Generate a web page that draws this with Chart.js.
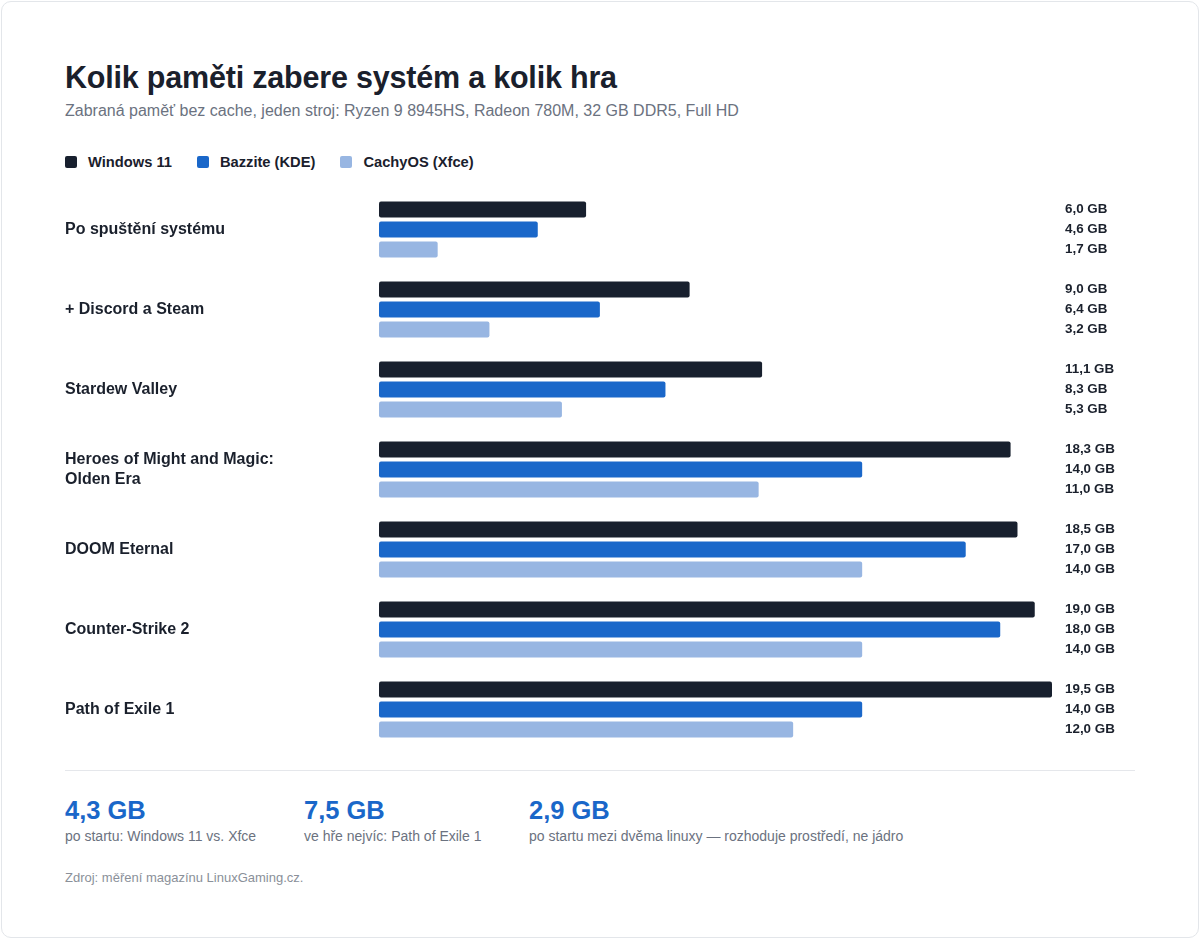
<!DOCTYPE html>
<html>
<head>
<meta charset="utf-8">
<script src="https://cdn.jsdelivr.net/npm/chart.js@4"></script>
<style>
  html,body{margin:0;padding:0;background:#ffffff;}
  body{width:1200px;height:939px;position:relative;font-family:"Liberation Sans",Arial,sans-serif;overflow:hidden;}
  .card{position:absolute;left:1px;top:1px;width:1196px;height:935px;border:1px solid #e3e6ea;border-radius:10px;background:#fff;}
  .title{position:absolute;left:65px;top:60px;font-size:30.5px;font-weight:700;color:#1a202c;letter-spacing:-0.2px;white-space:nowrap;}
  .subtitle{position:absolute;left:65px;top:102px;font-size:16px;color:#6b7280;white-space:nowrap;}
  .legend{position:absolute;left:65px;top:154px;display:flex;font-size:14.7px;font-weight:700;color:#1a202c;}
  .legend .item{display:flex;align-items:center;margin-right:25px;}
  .legend .sw{width:12px;height:12px;border-radius:2px;margin-right:11px;}
  .chartwrap{position:absolute;left:65px;top:178.5px;width:1070px;height:581px;}
  .sep{position:absolute;left:65px;top:770px;width:1070px;height:1px;background:#e5e7eb;}
  .stat{position:absolute;top:796px;}
  .stat .big{font-size:25.5px;font-weight:700;color:#1a67c9;line-height:28px;}
  .stat .cap{font-size:14px;color:#6b7280;margin-top:4px;white-space:nowrap;}
  .src{position:absolute;left:65px;top:870px;font-size:13px;color:#8a9099;}
</style>
</head>
<body>
<div class="card"></div>
<div class="title">Kolik paměti zabere systém a kolik hra</div>
<div class="subtitle">Zabraná paměť bez cache, jeden stroj: Ryzen 9 8945HS, Radeon 780M, 32 GB DDR5, Full HD</div>
<div class="legend" id="legend"></div>
<div class="chartwrap"><canvas id="c"></canvas></div>
<div class="sep"></div>
<div class="stat" style="left:65px"><div class="big">4,3 GB</div><div class="cap">po startu: Windows 11 vs. Xfce</div></div>
<div class="stat" style="left:304px"><div class="big">7,5 GB</div><div class="cap">ve hře nejvíc: Path of Exile 1</div></div>
<div class="stat" style="left:529px"><div class="big">2,9 GB</div><div class="cap">po startu mezi dvěma linuxy — rozhoduje prostředí, ne jádro</div></div>
<div class="src">Zdroj: měření magazínu LinuxGaming.cz.</div>
<script>
const categories = [
  "Po spuštění systému",
  "+ Discord a Steam",
  "Stardew Valley",
  ["Heroes of Might and Magic:", "Olden Era"],
  "DOOM Eternal",
  "Counter-Strike 2",
  "Path of Exile 1"
];
const seriesNames = ["Windows 11", "Bazzite (KDE)", "CachyOS (Xfce)"];
const windows11 = [6.0, 9.0, 11.1, 18.3, 18.5, 19.0, 19.5];
const bazzite   = [4.6, 6.4, 8.3, 14.0, 17.0, 18.0, 14.0];
const cachyos   = [1.7, 3.2, 5.3, 11.0, 14.0, 14.0, 12.0];
const colors = ["#18202e", "#1a67c9", "#98b6e2"];

const legend = document.getElementById('legend');
seriesNames.forEach((n,i)=>{
  const it=document.createElement('div');it.className='item';
  it.innerHTML='<span class="sw" style="background:'+colors[i]+'"></span>'+n;
  legend.appendChild(it);
});

const fmt = v => v.toFixed(1).replace('.', ',') + ' GB';

const valueLabels = {
  id:'valueLabels',
  afterDatasetsDraw(chart){
    const ctx=chart.ctx;
    ctx.save();
    ctx.font='700 13.4px "Liberation Sans", Arial, sans-serif';
    ctx.fillStyle='#1a202c';
    ctx.textAlign='left';
    ctx.textBaseline='middle';
    chart.data.datasets.forEach((ds,di)=>{
      const meta=chart.getDatasetMeta(di);
      meta.data.forEach((bar,i)=>{
        ctx.fillText(fmt(ds.data[i]), 1000, bar.y);
      });
    });
    ctx.restore();
  }
};

new Chart(document.getElementById('c'), {
  type:'bar',
  data:{
    labels:categories,
    datasets:[
      {label:seriesNames[0], data:windows11, backgroundColor:colors[0]},
      {label:seriesNames[1], data:bazzite, backgroundColor:colors[1]},
      {label:seriesNames[2], data:cachyos, backgroundColor:colors[2]}
    ]
  },
  options:{
    indexAxis:'y',
    responsive:true,
    maintainAspectRatio:false,
    animation:false,
    layout:{padding:{left:0,right:83,top:0,bottom:0}},
    datasets:{bar:{categoryPercentage:0.75, barPercentage:0.8, borderRadius:2, borderSkipped:false}},
    plugins:{legend:{display:false}, tooltip:{enabled:false}},
    scales:{
      x:{display:false, min:0, max:19.5},
      y:{
        grid:{display:false, drawTicks:false},
        border:{display:false},
        afterFit(scale){ scale.width = 314; },
        ticks:{
          crossAlign:'far',
          padding:0,
          color:'#1a202c',
          font:{family:'"Liberation Sans", Arial, sans-serif', size:16, weight:'700', lineHeight:1.3}
        }
      }
    }
  },
  plugins:[valueLabels]
});
</script>
</body>
</html>
